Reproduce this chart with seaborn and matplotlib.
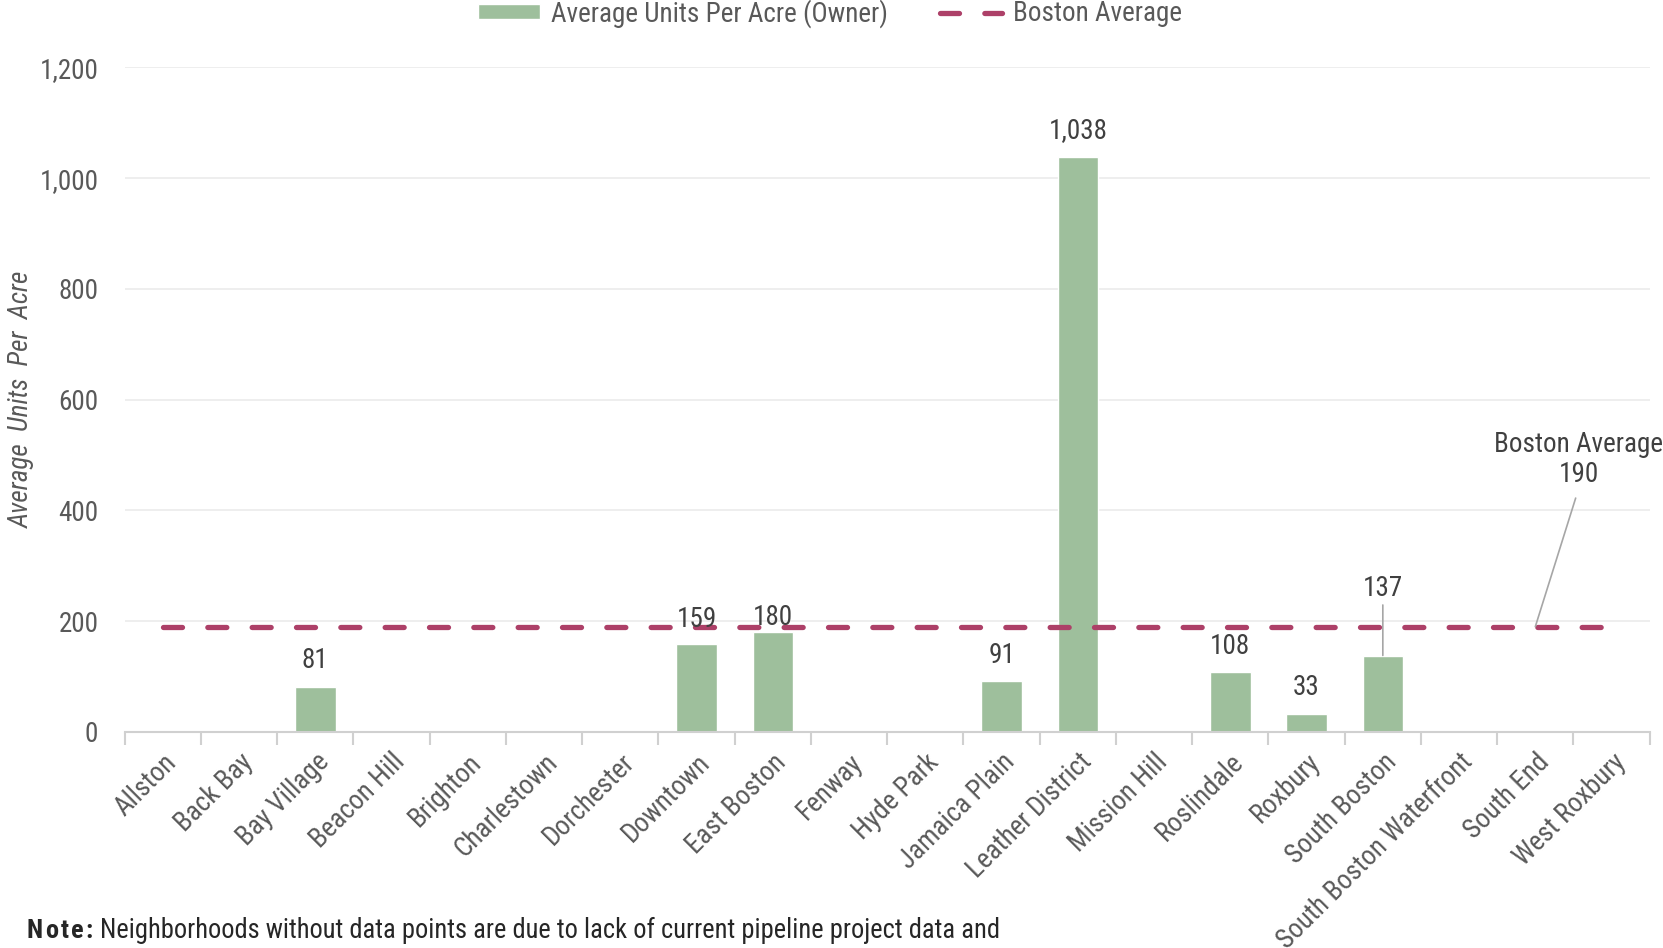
import matplotlib
matplotlib.use("Agg")
import matplotlib.pyplot as plt
import seaborn as sns
import numpy as np
import pandas as pd

neighborhoods = ["Allston", "Back Bay", "Bay Village", "Beacon Hill", "Brighton",
                 "Charlestown", "Dorchester", "Downtown", "East Boston", "Fenway",
                 "Hyde Park", "Jamaica Plain", "Leather District", "Mission Hill",
                 "Roslindale", "Roxbury", "South Boston", "South Boston Waterfront",
                 "South End", "West Roxbury"]
units_per_acre = [np.nan, np.nan, 81, np.nan, np.nan, np.nan, np.nan, 159, 180, np.nan,
                  np.nan, 91, 1038, np.nan, 108, 33, 137, np.nan, np.nan, np.nan]
boston_average = 190
y_ticks = [0, 200, 400, 600, 800, 1000, 1200]

BAR = "#9ebf9c"
LINE = "#ad4068"
TXT = "#595959"
FS = 19.5

sns.set_theme(style="white")
plt.rcParams["font.family"] = ["Roboto Condensed", "Roboto", "DejaVu Sans"]

df = pd.DataFrame({"Neighborhood": neighborhoods, "Units": units_per_acre})

fig = plt.figure(figsize=(16.63, 9.48), dpi=100)
ax = fig.add_axes([0.075, 0.228, 0.917, 0.701])

sns.barplot(data=df, x="Neighborhood", y="Units", order=neighborhoods, color=BAR,
            width=0.53, edgecolor="white", linewidth=1, saturation=1, ax=ax,
            label="Average Units Per Acre (Owner)")

xs = np.arange(len(neighborhoods))
ax.plot(xs, [boston_average] * len(xs), color=LINE, lw=3.8, dashes=(3.6, 4.8),
        dash_capstyle="round", label="Boston Average", zorder=3)

ax.set_xlim(-0.5, len(neighborhoods) - 0.5)
ax.set_ylim(0, 1200)
ax.set_yticks(y_ticks)
ax.set_yticklabels([f"{v:,}" for v in y_ticks])
ax.yaxis.grid(True, color="#ebebeb", lw=1.2)
ax.set_axisbelow(True)
for s in ["top", "right", "left"]:
    ax.spines[s].set_visible(False)
ax.spines["bottom"].set_color("#d0d0d0")
ax.spines["bottom"].set_linewidth(1.5)

ax.set_xticks(xs)
ax.set_xticklabels(neighborhoods, rotation=45, ha="right", rotation_mode="anchor",
                   fontsize=FS, color=TXT)
ax.tick_params(axis="x", which="major", length=0, pad=12)
ax.set_xticks(np.arange(-0.5, len(neighborhoods)), minor=True)
ax.tick_params(axis="x", which="minor", length=9, width=1.5, color="#d0d0d0", bottom=True)
ax.tick_params(axis="y", length=0, pad=19, labelsize=FS, labelcolor=TXT)

ax.set_xlabel("")
ax.set_ylabel("Average  Units  Per  Acre", fontsize=FS, color=TXT, style="italic")
ax.yaxis.set_label_coords(-0.059, 0.5)

# value labels
offsets = {"Downtown": 8, "East Boston": 1}
for i, (n, v) in enumerate(zip(neighborhoods, units_per_acre)):
    if np.isnan(v) or n == "South Boston":
        continue
    ax.annotate(f"{int(v):,}", (i, v), xytext=(0, offsets.get(n, 9)),
                textcoords="offset points", ha="center", va="bottom",
                fontsize=FS, color="#404040")
sb = neighborhoods.index("South Boston")
ax.annotate(f"{int(units_per_acre[sb]):,}", xy=(sb, 138), xytext=(sb, 235),
            ha="center", va="bottom", fontsize=FS, color="#404040",
            arrowprops=dict(arrowstyle="-", color="#a6a6a6", lw=1.2, shrinkA=0, shrinkB=0))

ax.annotate(f"Boston Average\n{boston_average}", xy=(18.0, 190), xytext=(18.57, 440),
            ha="center", va="bottom", fontsize=FS, color="#404040", linespacing=1.15,
            arrowprops=dict(arrowstyle="-", color="#a6a6a6", lw=1.2, shrinkA=5, shrinkB=0,
                            relpos=(0.5, 0.0)))

handles, labels = ax.get_legend_handles_labels()
order = [labels.index("Average Units Per Acre (Owner)"), labels.index("Boston Average")]
leg = ax.legend([handles[k] for k in order], [labels[k] for k in order],
                loc="center", bbox_to_anchor=(0.499, 0.986), bbox_transform=fig.transFigure,
                ncol=2, frameon=False, fontsize=FS, handlelength=2.3, handleheight=0.5,
                columnspacing=1.9, handletextpad=0.4)
for t in leg.get_texts():
    t.set_color(TXT)

# letter-spaced bold "Note:"
prev = fig.text(0.016, 0.018, "N", fontsize=19, weight="bold", color="#262626",
                va="center", ha="left")
for ch in "ote:":
    prev = ax.annotate(ch, xy=(1, 0.5), xycoords=prev, xytext=(1.6, 0),
                       textcoords="offset points", va="center", ha="left", fontsize=19,
                       weight="bold", color="#262626", annotation_clip=False)
ax.annotate("Neighborhoods without data points are due to lack of current pipeline project data and",
            xy=(1, 0.5), xycoords=prev, xytext=(5, 0), textcoords="offset points",
            va="center", ha="left", fontsize=19.1, color="#262626", annotation_clip=False)

fig.savefig("out.png", dpi=100)
